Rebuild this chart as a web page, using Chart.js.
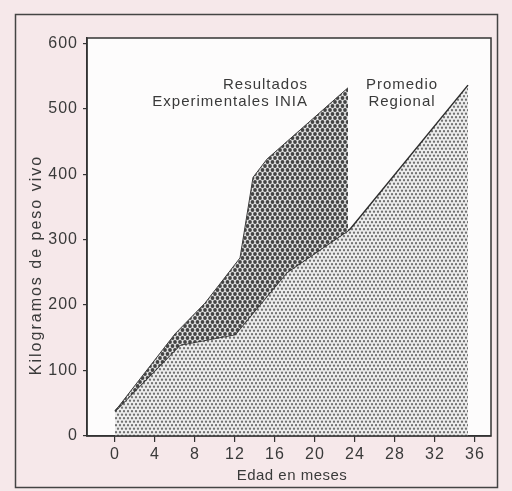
<!DOCTYPE html>
<html>
<head>
<meta charset="utf-8">
<script src="https://cdn.jsdelivr.net/npm/chart.js@4"></script>
<style>
html, body { margin: 0; padding: 0; background: #f6e9eb; }
</style>
</head>
<body>
<canvas id="chart" width="512" height="491"></canvas>
<script>
// values
const monthsInia = [0, 6, 9, 12.5, 13.8, 15.2, 23.3];
const kgInia = [38, 156, 203, 272, 395, 423, 532];
const monthsRegional = [0, 6.5, 12, 17.2, 23.5, 35.3];
const kgRegional = [38, 139, 155, 250, 316, 536];
const xTicks = [0, 4, 8, 12, 16, 20, 24, 28, 32, 36];
const yTicks = [0, 100, 200, 300, 400, 500, 600];

const FONT = '"Liberation Sans", Arial, sans-serif';
const INK = '#3a3a3a';

// staggered dot screen, like the printed stipple
function dotPattern(dx, dy, r, dot, bg) {
    const c = document.createElement('canvas');
    c.width = dx;
    c.height = dy * 2;
    const g = c.getContext('2d');
    g.fillStyle = bg;
    g.fillRect(0, 0, c.width, c.height);
    g.fillStyle = dot;
    [[dx / 2, dy / 2], [0, dy * 1.5], [dx, dy * 1.5]].forEach(p => {
        g.beginPath();
        g.arc(p[0], p[1], r, 0, Math.PI * 2);
        g.fill();
    });
    return g.createPattern(c, 'repeat');
}

const darkDots = dotPattern(5, 4, 1.9, '#444444', '#e2e2e2');
const lightDots = dotPattern(4, 3.5, 1.15, '#727272', '#ededed');

const toXY = (xs, ys) => xs.map((x, i) => ({x: x, y: ys[i]}));

const frame = {
    id: 'frame',
    beforeDraw(chart) {
        const {ctx, chartArea: a} = chart;
        ctx.save();
        ctx.fillStyle = '#f6e8ea';
        ctx.fillRect(0, 0, chart.width, chart.height);
        ctx.strokeStyle = '#444';
        ctx.lineWidth = 1.5;
        ctx.strokeRect(15.5, 14.5, 482, 473);
        ctx.fillStyle = '#fdfcfc';
        ctx.fillRect(a.left, a.top, a.right - a.left, a.bottom - a.top);
        ctx.restore();
        ctx.letterSpacing = '1px';
    },
    afterDraw(chart) {
        const {ctx, chartArea: a, scales} = chart;
        const x = scales.x, y = scales.y;
        ctx.save();
        ctx.strokeStyle = '#333';
        ctx.lineWidth = 1.5;
        ctx.strokeRect(a.left, a.top, a.right - a.left, a.bottom - a.top);

        ctx.fillStyle = INK;
        ctx.textBaseline = 'middle';

        ctx.font = '15px ' + FONT;
        ctx.letterSpacing = '1px';
        ctx.textAlign = 'right';
        ctx.fillText('Resultados', x.getPixelForValue(19.3), y.getPixelForValue(537));
        ctx.fillText('Experimentales INIA', x.getPixelForValue(19.3), y.getPixelForValue(511));
        ctx.textAlign = 'center';
        ctx.fillText('Promedio', x.getPixelForValue(28.7), y.getPixelForValue(537));
        ctx.fillText('Regional', x.getPixelForValue(28.7), y.getPixelForValue(511));

        ctx.letterSpacing = '0.5px';
        ctx.fillText('Edad en meses', 292, 476);

        ctx.translate(37, 265);
        ctx.rotate(-Math.PI / 2);
        ctx.font = '16px ' + FONT;
        ctx.letterSpacing = '2px';
        ctx.fillText('Kilogramos de peso vivo', 0, 0);
        ctx.restore();
    }
};

new Chart(document.getElementById('chart'), {
    type: 'line',
    data: {
        datasets: [
            {
                label: 'Resultados Experimentales INIA',
                data: toXY(monthsInia, kgInia),
                borderColor: '#3c3c3c',
                borderWidth: 1,
                backgroundColor: darkDots,
                fill: 1,
                pointRadius: 0,
                tension: 0
            },
            {
                label: 'Promedio Regional',
                data: toXY(monthsRegional, kgRegional),
                borderColor: '#2e2e2e',
                borderWidth: 1.5,
                backgroundColor: lightDots,
                fill: 'origin',
                pointRadius: 0,
                tension: 0
            }
        ]
    },
    options: {
        responsive: false,
        animation: false,
        layout: {padding: {left: 20, right: 21, top: 38, bottom: 0}},
        plugins: {legend: {display: false}, tooltip: {enabled: false}},
        scales: {
            x: {
                type: 'linear',
                min: -2.8,
                max: 37.6,
                afterFit: s => { s.height = 55; },
                afterBuildTicks: s => { s.ticks = xTicks.map(v => ({value: v})); },
                grid: {drawOnChartArea: false, drawTicks: true, tickLength: 6, color: '#333', lineWidth: 1.2},
                border: {color: '#333', width: 1.5},
                ticks: {color: INK, font: {family: FONT, size: 16}, padding: 3, maxRotation: 0}
            },
            y: {
                min: 0,
                max: 608,
                afterFit: s => { s.width = 67; },
                afterBuildTicks: s => { s.ticks = yTicks.map(v => ({value: v})); },
                grid: {drawOnChartArea: false, drawTicks: true, tickLength: 4, color: '#333', lineWidth: 1.2},
                border: {color: '#333', width: 1.5},
                ticks: {color: INK, font: {family: FONT, size: 16}, padding: 5}
            }
        }
    },
    plugins: [frame]
});
</script>
</body>
</html>
